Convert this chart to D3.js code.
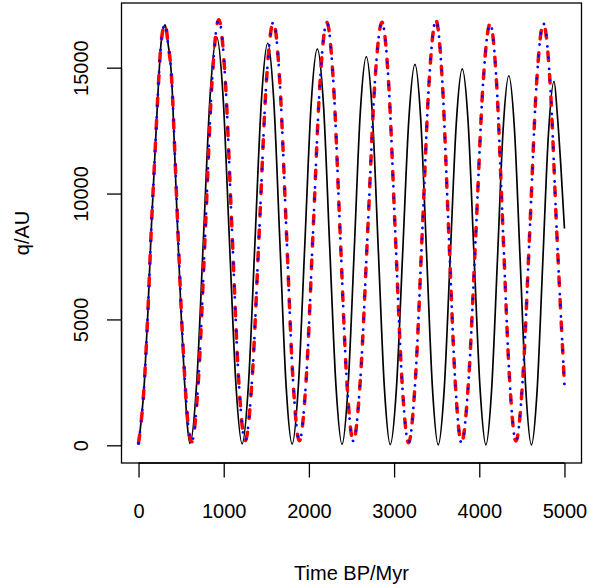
<!DOCTYPE html>
<html>
<head>
<meta charset="utf-8">
<script src="https://cdn.jsdelivr.net/npm/d3@7"></script>
<style>
  html, body { margin: 0; padding: 0; background: #fff; }
  svg { display: block; }
  text { font-family: "Liberation Sans", Arial, Helvetica, sans-serif; fill: #000; }
</style>
</head>
<body>
<svg id="chart" width="590" height="586"></svg>
<script>
// ---- data ----
const xTicks = [0, 1000, 2000, 3000, 4000, 5000];
const yTicks = [0, 5000, 10000, 15000];
const xLabel = "Time BP/Myr";
const yLabel = "q/AU";

const blackTime = [0,70,109,149,196,235,266,313,344,391,422,461,500,539,571,604,
  683,761,840,918, 992,1067,1142,1216, 1291,1366,1442,1517, 1588,1660,1731,1803,
  1877,1951,2025,2099, 2172,2244,2317,2389, 2460,2532,2603,2674, 2744,2815,2885,2955,
  3028,3100,3173,3245, 3313,3382,3450,3518, 3589,3659,3730,3800, 3870,3939,4009,4078,
  4145,4213,4280,4347, 4413,4480,4546,4612, 4679,4745,4812,4878, 4917,4957,5000];
const blackQ = [80,2590,5240,8540,11790,14430,16020,16700,16016,14429,11786,8345,5238,2591,873,80,
  2500,8147,13875,16214, 13872,8137,2483,60, 2448,8020,13672,15980, 13670,8015,2440,50,
  2405,7900,13474,15750, 13472,7895,2397,40, 2350,7740,13207,15440, 13206,7735,2342,30,
  2295,7580,12941,15130, 12939,7575,2287,20, 2260,7485,12785,14950, 12785,7485,2260,20,
  2219,7350,12554,14680, 12554,7345,2215,15, 2182,7237,12365,14460, 13100,11120,8610];

const redTime = [0,70,109,149,196,235,266,313,344,391,424,463,503,544,580,625,
  704,784,863,942, 1019,1097,1174,1251, 1334,1417,1500,1583, 1659,1736,1812,1888,
  1969,2049,2130,2210, 2288,2366,2443,2521, 2605,2690,2774,2858, 2936,3014,3092,3170,
  3250,3331,3411,3491, 3566,3641,3716,3791, 3875,3960,4044,4128, 4204,4279,4355,4430,
  4511,4592,4672,4753, 4832,4910,5000];
const redQ = [80,2590,5240,8540,11790,14430,16020,16750,16020,14430,11790,8450,5240,2590,880,140,
  2655,8523,14474,16905, 14480,8543,2689,180, 2675,8495,14399,16810, 14399,8495,2675,180,
  2673,8490,14390,16800, 14389,8485,2665,170, 2665,8485,14389,16800, 14378,8450,2605,100,
  2617,8490,14447,16880, 14447,8490,2617,100, 2598,8425,14336,16750, 14346,8460,2657,170,
  2657,8460,14346,16750, 14346,8460,2400];

// blue series lies on top of the red one
const blueTime = redTime;
const blueQ = redQ;

// ---- layout ----
const svg = d3.select("#chart");
const L = 121.5, R = 581.5, T = 3, B = 463;
const fs = 20;

const x = d3.scaleLinear().domain([-200, 5200]).range([L, R]);
const y = d3.scaleLinear().domain([-703, 17569]).range([B, T]);

const line = d3.line()
  .x(d => x(d[0]))
  .y(d => y(d[1]))
  .curve(d3.curveMonotoneX);

const zip = (a, b) => a.map((v, i) => [v, b[i]]);

const g = svg.append("g");

// clip to plot box
svg.append("defs").append("clipPath").attr("id", "clip")
  .append("rect").attr("x", L).attr("y", T).attr("width", R - L).attr("height", B - T);

const plot = g.append("g").attr("clip-path", "url(#clip)");

plot.append("path").datum(zip(blackTime, blackQ))
  .attr("d", line).attr("fill", "none").attr("stroke", "#000")
  .attr("stroke-width", 1.7);

plot.append("path").datum(zip(redTime, redQ))
  .attr("d", line).attr("fill", "none").attr("stroke", "#ff0000")
  .attr("stroke-width", 3.5).attr("stroke-linecap", "round")
  .attr("stroke-dasharray", "8.5,14");

plot.append("path").datum(zip(blueTime, blueQ))
  .attr("d", line).attr("fill", "none").attr("stroke", "#0000ff")
  .attr("stroke-width", 2.8).attr("stroke-linecap", "round")
  .attr("stroke-dasharray", "0.01,11.25");

// box
g.append("rect").attr("x", L).attr("y", T).attr("width", R - L).attr("height", B - T)
  .attr("fill", "none").attr("stroke", "#000").attr("stroke-width", 1.3);

// x axis
const xAxis = d3.axisBottom(x).tickValues(xTicks).tickSize(14.5).tickSizeOuter(0)
  .tickFormat(d3.format("d"));
const gx = g.append("g").attr("transform", `translate(0,${B})`).call(xAxis);
gx.select(".domain").attr("d", `M${x(xTicks[0])},0H${x(xTicks[xTicks.length-1])}`)
  .attr("stroke", "#000").attr("stroke-width", 1.3);
gx.selectAll(".tick line").attr("stroke", "#000").attr("stroke-width", 1.3);
gx.selectAll(".tick text").attr("font-size", fs).attr("font-family", null)
  .attr("y", 55).attr("dy", null).attr("fill", "#000");

// y axis
const yAxis = d3.axisLeft(y).tickValues(yTicks).tickSize(14.5).tickSizeOuter(0)
  .tickFormat(d3.format("d"));
const gy = g.append("g").attr("transform", `translate(${L},0)`).call(yAxis);
gy.select(".domain").attr("d", `M0,${y(yTicks[0])}V${y(yTicks[yTicks.length-1])}`)
  .attr("stroke", "#000").attr("stroke-width", 1.3);
gy.selectAll(".tick line").attr("stroke", "#000").attr("stroke-width", 1.3);
gy.selectAll(".tick text").attr("font-size", fs).attr("font-family", null)
  .attr("x", null).attr("dy", null).attr("text-anchor", "middle")
  .attr("transform", "translate(-34,0) rotate(-90)").attr("fill", "#000");

g.attr("font-family", null);
gx.attr("font-family", null).attr("font-size", null);
gy.attr("font-family", null).attr("font-size", null);

// axis titles
g.append("text").attr("x", (L + R) / 2).attr("y", 580).attr("text-anchor", "middle")
  .attr("font-size", fs).text(xLabel);
g.append("text").attr("transform", `translate(29,${(T + B) / 2}) rotate(-90)`)
  .attr("text-anchor", "middle").attr("font-size", fs).text(yLabel);
</script>
</body>
</html>
